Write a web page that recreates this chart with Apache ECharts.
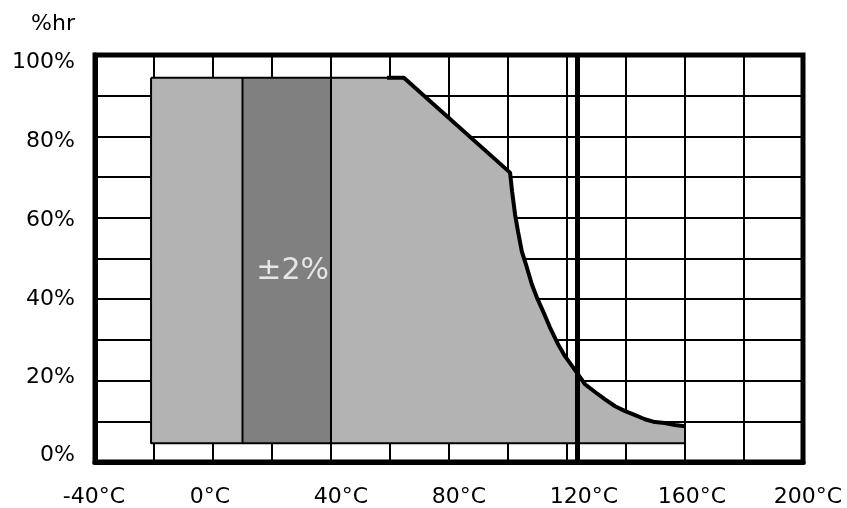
<!DOCTYPE html>
<html>
<head>
<meta charset="utf-8">
<script src="https://cdn.jsdelivr.net/npm/echarts@6/dist/echarts.min.js"></script>
<style>
  html, body { margin: 0; padding: 0; background: #fff; }
  #chart { width: 847px; height: 508px; }
</style>
</head>
<body>
<div id="chart"></div>
<script>
// ---- data ----
const xMin = -40, xMax = 200, xGridStep = 20, xLabelStep = 40;
const yMin = 0, yMax = 100, yGridStep = 10, yLabelStep = 20;

// operating envelope: temperature (°C) vs relative humidity (%)
const envelopeTemp = [-21, 59, 64.7, 100.7, 101.4, 102.4, 103.4, 104.7, 106.4, 108.1, 109.8, 111.9, 114.2, 117.0, 119.3, 122.0, 126.1, 129.5, 132.9, 136.3, 139.7, 143.1, 146.4, 149.8, 153.2, 156.6, 160];
const envelopeRH   = [94.4, 94.4, 94.4, 71.1, 66.4, 60.8, 56.6, 51.7, 47.8, 43.6, 40.4, 37.0, 33.1, 28.9, 26.0, 23.3, 19.1, 17.2, 15.4, 13.7, 12.5, 11.5, 10.5, 9.8, 9.6, 9.1, 8.8];
const envelopeFloorRH = 4.6;

// ±2% accuracy band
const bandTemp = [10, 40];
const bandRH = [94.4, 94.4];
const bandLabel = '±2%';
const bandLabelPos = [27, 47];

// vertical limit line
const limitTemp = 123.4;

const axisTitle = '%hr';

// ---- styles ----
const font = 'DejaVu Sans';
const labelSize = 22;
// small label nudges (px) so the tick texts sit where the reference prints them
const xLabelNudge = { '-40': -1, '0': -3, '40': 10, '80': 10, '120': 17, '160': 7, '200': 5 };
const yLabelNudge = { '0': -7, '20': -3, '40': 0, '60': 2, '80': 5, '100': 7 };

// ---- build ----
const envelope = envelopeTemp.map((t, i) => [t, envelopeRH[i]]);
const thinEndIdx = 1;
const topThin = envelope.slice(0, thinEndIdx + 1);
const curveThick = envelope.slice(thinEndIdx);
const lastT = envelopeTemp[envelopeTemp.length - 1];
const lastRH = envelopeRH[envelopeRH.length - 1];
const firstT = envelopeTemp[0];
const outlineThin = [[firstT, envelopeRH[0]], [firstT, envelopeFloorRH], [lastT, envelopeFloorRH], [lastT, lastRH]];
const band = bandTemp.map((t, i) => [t, bandRH[i]]);
const bandLeft = [[bandTemp[0], envelopeFloorRH], [bandTemp[0], bandRH[0]]];
const bandRight = [[bandTemp[1], envelopeFloorRH], [bandTemp[1], bandRH[1]]];

const xRich = {}, yRich = {};
Object.keys(xLabelNudge).forEach(k => {
  const d = xLabelNudge[k];
  xRich['x' + k.replace('-', 'm')] = { fontSize: labelSize, fontFamily: font, color: '#000',
    padding: d >= 0 ? [0, 0, 0, 2 * d] : [0, -2 * d, 0, 0] };
});
Object.keys(yLabelNudge).forEach(k => {
  const d = yLabelNudge[k];
  yRich['y' + k] = { fontSize: labelSize, fontFamily: font, color: '#000',
    padding: d >= 0 ? [2 * d, 0, 0, 0] : [0, 0, -2 * d, 0] };
});

function lineSeries(data, width, z) {
  return {
    type: 'line', data: data, symbol: 'none', silent: true, z: z,
    lineStyle: { color: '#000', width: width }, animation: false
  };
}

const chart = echarts.init(document.getElementById('chart'), null, { renderer: 'canvas' });
chart.setOption({
  animation: false,
  backgroundColor: '#fff',
  grid: {
    left: 95, right: 44, top: 55, bottom: 45,
    show: true, borderColor: '#000', borderWidth: 5, backgroundColor: '#fff'
  },
  graphic: [{
    type: 'text', x: 75, y: 24, silent: true,
    style: { text: axisTitle, fill: '#000', fontSize: labelSize, fontFamily: font, align: 'right', verticalAlign: 'middle' }
  }],
  xAxis: {
    type: 'value', min: xMin, max: xMax, interval: xGridStep,
    axisLine: { show: true, onZero: false, lineStyle: { color: '#000', width: 5 } },
    axisTick: { show: false },
    splitLine: { show: true, lineStyle: { color: '#000', width: 2 } },
    axisLabel: {
      color: '#000', fontSize: labelSize, fontFamily: font, margin: 24,
      formatter: v => (v % xLabelStep === 0 ? '{x' + String(v).replace('-', 'm') + '|' + v + '°C}' : ''),
      rich: xRich
    }
  },
  yAxis: {
    type: 'value', min: yMin, max: yMax, interval: yGridStep,
    axisLine: { show: true, onZero: false, lineStyle: { color: '#000', width: 5 } },
    axisTick: { show: false },
    splitLine: { show: true, lineStyle: { color: '#000', width: 2 } },
    axisLabel: {
      color: '#000', fontSize: labelSize, fontFamily: font, margin: 20,
      formatter: v => (v % yLabelStep === 0 ? '{y' + v + '|' + v + '%}' : ''),
      rich: yRich
    }
  },
  series: [
    {
      type: 'line', data: envelope, symbol: 'none', silent: true, z: 2,
      lineStyle: { width: 0, opacity: 0 },
      areaStyle: { color: '#b3b3b3', opacity: 1, origin: envelopeFloorRH }
    },
    {
      type: 'line', data: band, symbol: 'none', silent: true, z: 3,
      lineStyle: { width: 0, opacity: 0 },
      areaStyle: { color: '#808080', opacity: 1, origin: envelopeFloorRH }
    },
    lineSeries(topThin, 2, 4),
    lineSeries(outlineThin, 2, 4),
    lineSeries(bandLeft, 2, 4),
    lineSeries(bandRight, 2, 4),
    Object.assign(lineSeries(curveThick, 4, 5), {
      markLine: {
        silent: true, symbol: 'none', label: { show: false },
        lineStyle: { color: '#000', width: 5, type: 'solid' },
        data: [{ xAxis: limitTemp }]
      }
    }),
    {
      type: 'scatter', data: [bandLabelPos], symbolSize: 0, silent: true, z: 6,
      label: {
        show: true, position: 'inside', formatter: bandLabel,
        color: '#fff', fontSize: 30, fontFamily: font
      }
    }
  ]
});
</script>
</body>
</html>
